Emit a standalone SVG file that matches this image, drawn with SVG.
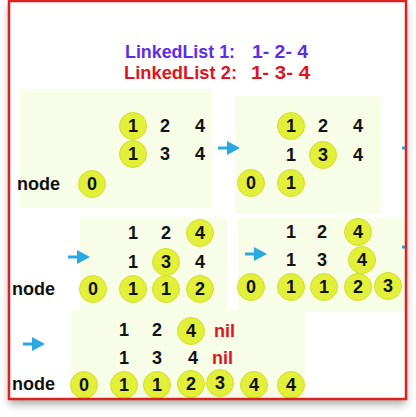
<svg xmlns="http://www.w3.org/2000/svg" width="416" height="417" viewBox="0 0 416 417">
<style>
.panel{fill:#f7fde7}
.c{fill:#e2f03a;stroke:#d2e02c;stroke-width:1}
.t{font-family:"Liberation Sans",Arial,sans-serif;font-weight:bold;font-size:18px;fill:#111;text-anchor:middle}
.lbl{font-family:"Liberation Sans",Arial,sans-serif;font-weight:bold;font-size:18px;fill:#111}
.nil{font-family:"Liberation Sans",Arial,sans-serif;font-weight:bold;font-size:18px;fill:#e0141e}
.title{font-family:"Liberation Sans",Arial,sans-serif;font-weight:bold;font-size:18px;white-space:pre}
.arr{stroke:#29a9df;stroke-width:3;fill:none}
.head{fill:#29a9df}
</style>
<defs>
<filter id="sh" x="-10%" y="-10%" width="120%" height="125%">
<feDropShadow dx="0" dy="5" stdDeviation="4" flood-color="#000" flood-opacity="0.35"/>
</filter>
<g id="ah"><path class="arr" d="M0 0 H11"/><polygon class="head" points="9,-7 22,0 9,7"/></g>
</defs>
<rect width="416" height="417" fill="#fff"/>
<rect x="9" y="1" width="397" height="398" fill="#fff" filter="url(#sh)"/>

<g id="title">
<text class="title" y="58" fill="#5b2ee9" xml:space="preserve"><tspan x="125" textLength="110" lengthAdjust="spacingAndGlyphs">LinkedList 1:</tspan><tspan x="252" textLength="56" lengthAdjust="spacingAndGlyphs">1- 2- 4</tspan></text>
<text class="title" y="79" fill="#e0141e" xml:space="preserve"><tspan x="124" textLength="113" lengthAdjust="spacingAndGlyphs">LinkedList 2:</tspan><tspan x="251" textLength="59" lengthAdjust="spacingAndGlyphs">1- 3- 4</tspan></text>
</g>

<g id="step1">
<rect class="panel" x="20" y="89" width="192" height="119"/>
<circle class="c" cx="133" cy="126" r="13.5"/>
<circle class="c" cx="133" cy="154" r="13.5"/>
<circle class="c" cx="92" cy="184" r="13.5"/>
<text class="t" x="133" y="132">1</text><text class="t" x="165" y="132">2</text><text class="t" x="200" y="132">4</text>
<text class="t" x="133" y="160">1</text><text class="t" x="165" y="160">3</text><text class="t" x="200" y="160">4</text>
<text class="lbl" x="17" y="190">node</text><text class="t" x="92" y="190">0</text>
</g>

<g id="step2">
<rect class="panel" x="235" y="96" width="146" height="118"/>
<circle class="c" cx="291" cy="126" r="13.5"/>
<circle class="c" cx="323" cy="155" r="13.5"/>
<circle class="c" cx="251" cy="183" r="13.5"/>
<circle class="c" cx="291" cy="183" r="13.5"/>
<text class="t" x="291" y="132">1</text><text class="t" x="323" y="132">2</text><text class="t" x="358" y="132">4</text>
<text class="t" x="291" y="161">1</text><text class="t" x="323" y="161">3</text><text class="t" x="358" y="161">4</text>
<text class="t" x="251" y="189">0</text><text class="t" x="291" y="189">1</text>
</g>

<g id="step3">
<rect class="panel" x="80" y="218" width="147" height="92"/>
<circle class="c" cx="200" cy="233" r="13.5"/>
<circle class="c" cx="166" cy="262" r="13.5"/>
<circle class="c" cx="93" cy="289" r="13.5"/>
<circle class="c" cx="133" cy="289" r="13.5"/>
<circle class="c" cx="166" cy="289" r="13.5"/>
<circle class="c" cx="200" cy="289" r="13.5"/>
<text class="t" x="133" y="239">1</text><text class="t" x="166" y="239">2</text><text class="t" x="200" y="239">4</text>
<text class="t" x="133" y="268">1</text><text class="t" x="166" y="268">3</text><text class="t" x="200" y="268">4</text>
<text class="lbl" x="12" y="295">node</text>
<text class="t" x="93" y="295">0</text><text class="t" x="133" y="295">1</text><text class="t" x="166" y="295">1</text><text class="t" x="200" y="295">2</text>
</g>

<g id="step4">
<rect class="panel" x="238" y="218" width="167" height="94"/>
<circle class="c" cx="358" cy="232" r="13.5"/>
<circle class="c" cx="362" cy="260" r="13.5"/>
<circle class="c" cx="251" cy="287" r="13.5"/>
<circle class="c" cx="291" cy="287" r="13.5"/>
<circle class="c" cx="324" cy="287" r="13.5"/>
<circle class="c" cx="358" cy="287" r="13.5"/>
<circle class="c" cx="388" cy="286" r="13.5"/>
<text class="t" x="291" y="238">1</text><text class="t" x="322" y="238">2</text><text class="t" x="358" y="238">4</text>
<text class="t" x="291" y="266">1</text><text class="t" x="322" y="266">3</text><text class="t" x="362" y="266">4</text>
<text class="t" x="251" y="293">0</text><text class="t" x="291" y="293">1</text><text class="t" x="324" y="293">1</text><text class="t" x="358" y="293">2</text><text class="t" x="388" y="292">3</text>
</g>

<g id="step5">
<rect class="panel" x="71" y="310" width="234" height="89"/>
<circle class="c" cx="191" cy="331" r="13.5"/>
<circle class="c" cx="84" cy="385" r="13.5"/>
<circle class="c" cx="124" cy="385" r="13.5"/>
<circle class="c" cx="157" cy="385" r="13.5"/>
<circle class="c" cx="191" cy="384" r="13.5"/>
<circle class="c" cx="220" cy="383" r="13.5"/>
<circle class="c" cx="254" cy="385" r="13.5"/>
<circle class="c" cx="291" cy="385" r="13.5"/>
<text class="t" x="124" y="336">1</text><text class="t" x="157" y="336">2</text><text class="t" x="191" y="337">4</text>
<text class="nil" x="214" y="337">nil</text>
<text class="t" x="124" y="364">1</text><text class="t" x="157" y="364">3</text><text class="t" x="193" y="364">4</text>
<text class="nil" x="212" y="364">nil</text>
<text class="lbl" x="12" y="390">node</text>
<text class="t" x="84" y="391">0</text><text class="t" x="124" y="391">1</text><text class="t" x="157" y="391">1</text><text class="t" x="191" y="390">2</text><text class="t" x="220" y="389">3</text><text class="t" x="254" y="391">4</text><text class="t" x="291" y="391">4</text>
</g>

<g id="connectors">
<use href="#ah" x="218" y="148"/>
<use href="#ah" x="68" y="257"/>
<use href="#ah" x="245" y="254"/>
<use href="#ah" x="23" y="344"/>
<path class="arr" d="M402 148 H406 M402 247 H406"/>
</g>

<rect x="9" y="1" width="397" height="398" fill="none" stroke="#dd2020" stroke-width="2.5"/>
</svg>
